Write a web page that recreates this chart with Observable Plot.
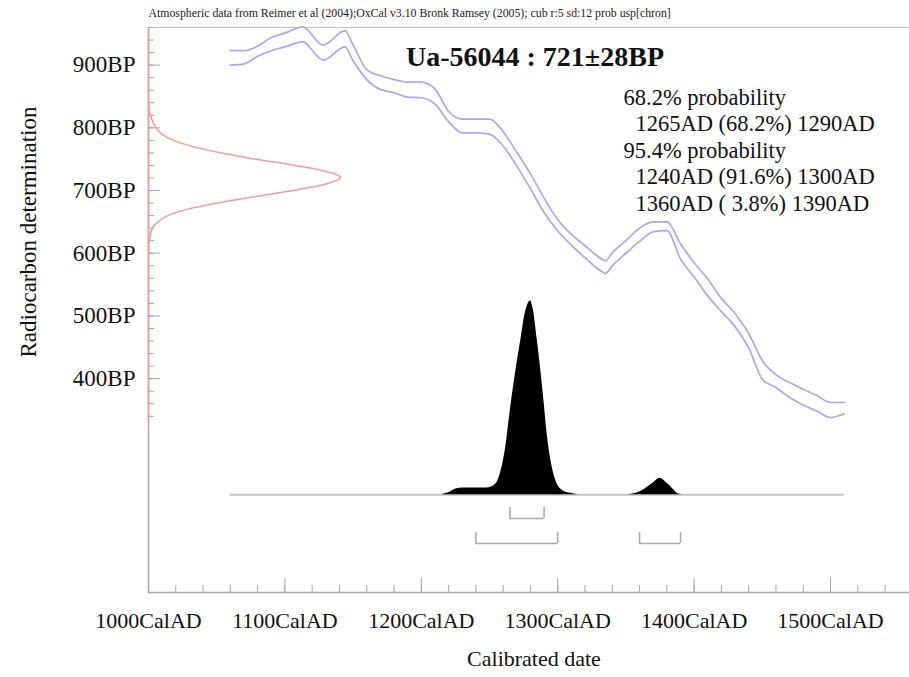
<!DOCTYPE html>
<html><head><meta charset="utf-8">
<script src="https://cdn.jsdelivr.net/npm/d3@7"></script>
<script src="https://cdn.jsdelivr.net/npm/@observablehq/plot@0.6"></script>
<style>body{margin:0;background:#fff} #chart svg{display:block}</style>
</head><body><div id="chart"></div>
<script>
// ---- data ----
const curveYears   = [1060,1070,1080,1090,1100,1113,1128,1144,1150,1160,1170,1180,1190,1200,1210,1220,1230,1240,1250,1260,1270,1280,1290,1300,1310,1320,1330,1335,1340,1350,1360,1370,1380,1390,1400,1410,1420,1430,1440,1450,1460,1470,1480,1490,1500,1510];
const curveUpperBP = [923,923,930,944,951,961,932,955,932,893,883,877,873,873,862,826,814,814,814,794,761,727,688,654,630,612,594,588,601,620,640,650,650,615,585,559,528,504,472,429,406,394,383,373,362,362];
const curveLowerBP = [900,902,914,923,929,937,908,929,907,877,861,856,849,848,838,810,792,792,790,771,739,703,665,636,613,593,574,568,580,600,619,634,636,591,562,532,507,483,449,399,386,370,358,348,338,344];

// radiocarbon measurement distribution (BP, relative probability)
const measBP   = [840,820,800,790,780,770,760,750,740,730,721,710,700,690,680,670,660,650,640,620,600];
const measProb = [0,0.01,0.04,0.07,0.13,0.23,0.38,0.56,0.76,0.93,1.0,0.92,0.75,0.55,0.36,0.20,0.10,0.05,0.02,0.005,0];

// calibrated distribution (year AD, relative probability)
const calYears = [1215,1220,1226,1230,1240,1248,1253,1256,1258,1262,1265,1270,1273,1276,1278,1280,1282,1285,1287,1290,1292,1294,1297,1300,1302,1306,1311,1316,1350,1356,1362,1366,1370,1375,1380,1385,1388,1392];
const calProb  = [0,0.01,0.03,0.035,0.035,0.035,0.045,0.07,0.11,0.25,0.42,0.67,0.8,0.93,0.98,1.0,0.96,0.8,0.68,0.48,0.33,0.22,0.11,0.05,0.03,0.012,0.005,0,0,0.005,0.02,0.04,0.06,0.085,0.06,0.025,0.005,0];

const range68From = [1265], range68To = [1290];
const range95From = [1240, 1360], range95To = [1300, 1390];

const xTickLabels = [1000,1100,1200,1300,1400,1500];
const yTickLabels = [400,500,600,700,800,900];

const headerText = "Atmospheric data from Reimer et al (2004);OxCal v3.10 Bronk Ramsey (2005); cub r:5 sd:12 prob usp[chron]";
const titleText = "Ua-56044 : 721±28BP";
const infoLines = ["68.2% probability","1265AD (68.2%) 1290AD","95.4% probability","1240AD (91.6%) 1300AD","1360AD ( 3.8%) 1390AD"];
const infoIndent = [0,1,0,1,1];

// ---- layout ----
const W = 909, H = 677, ML = 148, MR = 0, MT = 27, MB = 85;
const frameW = W - ML - MR, frameH = H - MT - MB;
const xDomain = [1000, 1557.9];
const yDomain = [59, 960];
const RED_W = 140.8;      // width of measurement peak, in years
const CAL_BASE = 215;     // baseline of calibrated distribution, in BP units
const CAL_H = 309;        // peak height of calibrated distribution, in BP units
const ROW68 = 177, ROW95 = 137, BRK = 17.5;
const redAxisBottom = 334;
const INFO_X = 475, INFO_INDENT = 12, INFO_Y0 = 70, INFO_LH = 26.5;

const upper = curveYears.map((y,i)=>({year:y, bp:curveUpperBP[i]}));
const lower = curveYears.map((y,i)=>({year:y, bp:curveLowerBP[i]}));
const meas = measBP.map((b,i)=>({bp:b, p:measProb[i]}));
const cal = calYears.map((y,i)=>({year:y, p:calProb[i]}));
const r68 = range68From.map((f,i)=>({from:f, to:range68To[i]}));
const r95 = range95From.map((f,i)=>({from:f, to:range95To[i]}));
const ends68 = r68.flatMap(d=>[d.from,d.to]);
const ends95 = r95.flatMap(d=>[d.from,d.to]);

const yMinor = d3.range(340, 961, 20);
const xMinor = d3.range(1000, 1557, 20);

const red = "#f39c9c", blue = "#a8a8f4", axisGray = "#a8a8a8", lightGray = "#c4c4c4";

const infoMarks = infoLines.map((t,i)=>Plot.text([t], {text: d=>d, frameAnchor: "top-left", textAnchor: "start", lineAnchor: "middle",
  dx: INFO_X + infoIndent[i]*INFO_INDENT, dy: INFO_Y0 + i*INFO_LH, fontSize: 22.5, fill: "#111"}));

const chart = Plot.plot({
  width: W, height: H,
  marginLeft: ML, marginRight: MR, marginTop: MT, marginBottom: MB,
  x: {domain: xDomain, axis: null},
  y: {domain: yDomain, axis: null},
  style: {fontFamily: "Liberation Serif", background: "white", overflow: "visible"},
  marks: [
    // frame lines
    Plot.ruleY([yDomain[1]], {stroke: lightGray, strokeWidth: 1.2}),
    Plot.ruleX([xDomain[0]], {stroke: axisGray, strokeWidth: 1.5}),
    Plot.ruleY([yDomain[0]], {stroke: axisGray, strokeWidth: 1.5}),
    Plot.ruleX([xDomain[0]], {y1: redAxisBottom, y2: yDomain[1], stroke: red, strokeWidth: 1.5}),
    // ticks
    Plot.tickY(yMinor, {y: d=>d, stroke: axisGray, insetRight: frameW - 6}),
    Plot.tickY(yTickLabels, {y: d=>d, stroke: axisGray, insetRight: frameW - 12}),
    Plot.tickX(xMinor, {x: d=>d, stroke: axisGray, insetTop: frameH - 7}),
    Plot.tickX(xTickLabels, {x: d=>d, stroke: axisGray, insetTop: frameH - 14}),
    // tick labels
    Plot.text(yTickLabels, {y: d=>d, text: d=>d+"BP", frameAnchor: "left", dx: -13, textAnchor: "end", lineAnchor: "middle", fontSize: 23, fill: "#111"}),
    Plot.text(xTickLabels, {x: d=>d, text: d=>d+"CalAD", frameAnchor: "bottom", dy: 28, textAnchor: "middle", lineAnchor: "middle", fontSize: 22, fill: "#111"}),
    // axis titles
    Plot.text(["Radiocarbon determination"], {text: d=>d, frameAnchor: "left", dx: -120, dy: -78, rotate: -90, textAnchor: "middle", lineAnchor: "middle", fontSize: 23, fill: "#111"}),
    Plot.text(["Calibrated date"], {text: d=>d, frameAnchor: "bottom", dx: 5, dy: 66, textAnchor: "middle", lineAnchor: "middle", fontSize: 22, fill: "#111"}),
    // header
    Plot.text([headerText], {text: d=>d, frameAnchor: "top-left", dy: -14, textAnchor: "start", lineAnchor: "middle", fontSize: 11.8, fill: "#222"}),
    // measurement distribution on y axis
    Plot.line(meas, {x: d=>xDomain[0] + d.p*RED_W, y: "bp", stroke: red, strokeWidth: 1.5, curve: "monotone-y"}),
    // calibration curve
    Plot.line(upper, {x: "year", y: "bp", stroke: blue, strokeWidth: 1.7, curve: "monotone-x"}),
    Plot.line(lower, {x: "year", y: "bp", stroke: blue, strokeWidth: 1.7, curve: "monotone-x"}),
    // calibrated distribution
    Plot.ruleY([CAL_BASE], {x1: curveYears[0], x2: curveYears[curveYears.length-1], stroke: lightGray, strokeWidth: 2}),
    Plot.areaY(cal, {x: "year", y1: CAL_BASE, y2: d=>CAL_BASE + d.p*CAL_H, fill: "black", curve: "monotone-x"}),
    // ranges
    Plot.ruleY(r68, {y: ROW68, x1: "from", x2: "to", stroke: axisGray, strokeWidth: 1.5}),
    Plot.ruleX(ends68, {x: d=>d, y1: ROW68, y2: ROW68 + BRK, stroke: axisGray, strokeWidth: 1.5}),
    Plot.ruleY(r95, {y: ROW95, x1: "from", x2: "to", stroke: axisGray, strokeWidth: 1.5}),
    Plot.ruleX(ends95, {x: d=>d, y1: ROW95, y2: ROW95 + BRK, stroke: axisGray, strokeWidth: 1.5}),
    // title and info
    Plot.text([titleText], {text: d=>d, frameAnchor: "top", dx: 6, dy: 30, textAnchor: "middle", lineAnchor: "middle", fontSize: 28, fontWeight: "bold", fill: "#111"}),
    ...infoMarks
  ]
});
document.getElementById("chart").appendChild(chart);
</script></body></html>
